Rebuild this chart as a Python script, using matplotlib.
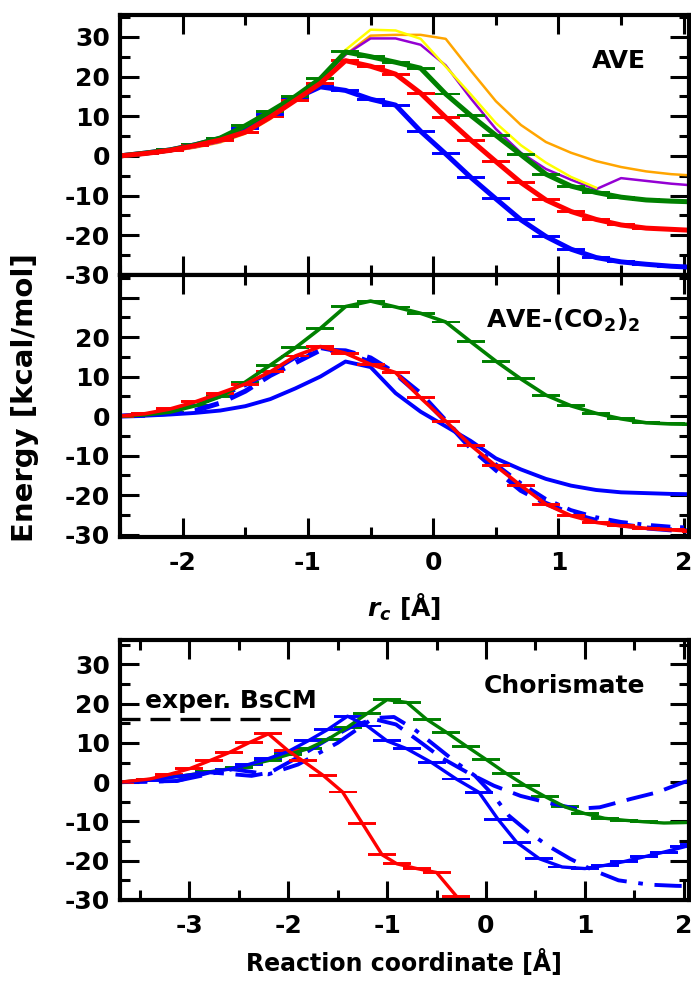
import matplotlib
matplotlib.use("Agg")
import matplotlib.pyplot as plt
from matplotlib.ticker import MultipleLocator

plt.rcParams['font.family'] = 'DejaVu Sans'
plt.rcParams['font.weight'] = 'bold'
plt.rcParams['axes.labelweight'] = 'bold'
plt.rcParams['axes.unicode_minus'] = False
plt.rcParams['mathtext.fontset'] = 'custom'
plt.rcParams['mathtext.rm'] = 'DejaVu Sans:bold'
plt.rcParams['mathtext.it'] = 'DejaVu Sans:italic:bold'
plt.rcParams['mathtext.bf'] = 'DejaVu Sans:bold'

# ---- data: top panel (AVE) and middle panel (AVE-(CO2)2), r_c grid in Angstrom
rc = [-2.5, -2.3, -2.1, -1.9, -1.7, -1.5, -1.3, -1.1, -0.9, -0.7, -0.5, -0.3,
      -0.1, 0.1, 0.3, 0.5, 0.7, 0.9, 1.1, 1.3, 1.5, 1.7, 1.9, 2.1]

ave_blue = [0, 0.7, 1.5, 2.8, 4.4, 6.8, 10.4, 14.5, 17.4, 16.5, 14.3, 12.8,
            6.2, 0.5, -5.4, -10.8, -16.1, -20.3, -23.5, -25.6, -26.7, -27.3, -27.8, -28.1]
ave_red = [0, 0.6, 1.4, 2.6, 4.0, 6.0, 9.8, 14.0, 18.3, 24.0, 22.6, 20.6,
           15.8, 9.7, 4.0, -1.4, -6.7, -11.1, -14.0, -16.0, -17.4, -18.2, -18.5, -18.8]
ave_green = [0, 0.7, 1.5, 2.8, 4.5, 7.6, 11.2, 15.0, 19.5, 26.2, 25.0, 23.6,
             22.1, 15.6, 10.2, 5.2, 0.3, -4.6, -7.6, -9.2, -10.4, -11.1, -11.4, -11.6]
ave_yellow = [0, 0.5, 1.2, 2.3, 3.8, 6.0, 9.8, 14.5, 19.5, 26.7, 31.8, 31.6,
              29.5, 22.5, 15.5, 8.3, 2.7, -1.7, -5.3, -8.0]
ave_orange = [0, 0.5, 1.2, 2.1, 3.4, 5.6, 9.3, 14.0, 19.0, 25.5, 30.3, 30.5,
              30.5, 29.5, 21.5, 13.8, 7.8, 3.5, 0.8, -1.3, -2.8, -3.9, -4.6, -5.0]
ave_purple = [0, 0.5, 1.2, 2.2, 3.6, 5.8, 9.5, 14.2, 19.0, 25.5, 29.6, 29.6,
              28.0, 22.8, 14.5, 6.8, 0.8, -3.3, -6.0, -8.4, -5.6, -6.3, -7.0, -7.5]

co2_green = [0, 0.3, 1.0, 2.6, 4.9, 8.6, 12.9, 17.3, 22.2, 27.7, 29.1, 27.6,
             26.0, 23.8, 18.8, 13.9, 9.4, 5.3, 2.6, 0.7, -0.7, -1.7, -2.0, -2.1]
co2_red = [0, 0.6, 1.8, 3.6, 5.8, 8.1, 11.2, 15.2, 17.6, 15.9, 13.1, 11.0,
           4.6, -1.3, -7.4, -12.6, -17.6, -22.3, -25.2, -26.9, -27.8, -28.4, -28.8, -29.2]
co2_blue = [0, 0.1, 0.4, 0.8, 1.4, 2.5, 4.3, 7.0, 10.0, 13.8, 12.4, 5.8,
            1.1, -2.6, -6.3, -10.7, -13.5, -15.9, -17.6, -18.7, -19.3, -19.5, -19.7, -19.8]
co2_blue_dash = [0, 0.2, 0.7, 1.4, 3.3, 6.3, 10.3, 13.5, 16.7, 16.5, 14.7, 10.8,
                 5.7, -1.2, -8.1, -13.6, -18.8, -22.1, -24.7, -26.4, -27.5, -28.3, -28.8, -29.2]
co2_blue_dashdot = [0, 0.5, 1.4, 3.0, 5.0, 7.8, 11.0, 14.8, 17.2, 16.0, 13.8, 10.5,
                    5.0, -1.5, -7.0, -12.2, -17.0, -21.0, -23.8, -25.6, -26.8, -27.5, -28.0, -28.3]

# ---- data: bottom panel (Chorismate)
ch_red_x = [-3.7, -3.4, -3.2, -3.0, -2.8, -2.6, -2.4, -2.2, -2.0, -1.85, -1.65,
            -1.45, -1.25, -1.05, -0.9, -0.7, -0.5, -0.3, -0.2]
ch_red = [0, 0.8, 2.0, 3.4, 5.4, 7.5, 10.0, 12.3, 8.0, 5.4, 1.8,
          -2.5, -10.5, -18.5, -20.8, -22.0, -23.0, -29.0, -32.0]
ch_green_x = [-3.7, -3.4, -3.1, -2.8, -2.5, -2.2, -2.0, -1.8, -1.6, -1.4, -1.2, -1.0,
              -0.8, -0.6, -0.4, -0.2, 0.0, 0.2, 0.4, 0.6, 0.8, 1.0, 1.2, 1.4, 1.6, 1.8, 2.0, 2.1]
ch_green = [0, 0.7, 1.5, 2.6, 3.8, 5.5, 7.0, 8.5, 10.9, 14.0, 17.5, 21.0,
            20.3, 16.0, 12.7, 9.2, 5.8, 2.3, -0.9, -3.7, -6.3, -8.0, -9.2, -9.7, -10.1, -10.4, -10.3, -10.2]
ch_blue_x = [-3.7, -3.4, -3.1, -2.8, -2.6, -2.4, -2.2, -2.0, -1.8, -1.6, -1.4, -1.2,
             -1.0, -0.8, -0.55, -0.3, -0.07, 0.12, 0.31, 0.54, 0.77, 1.0, 1.2, 1.4, 1.6, 1.8, 2.0, 2.1]
ch_blue = [0, 0.5, 1.5, 2.5, 3.3, 4.5, 6.0, 7.8, 10.5, 13.4, 16.8, 14.3,
           10.5, 8.5, 5.0, 0.8, -2.6, -9.4, -15.3, -19.5, -21.6, -22.0, -21.2, -20.2, -19.0, -17.8, -16.5, -15.8]
ch_blue_dash_x = [-3.7, -3.13, -2.79, -2.37, -2.18, -1.91, -1.6, -1.37, -1.14, -0.91,
                  -0.68, -0.45, -0.19, 0.08, 0.35, 0.62, 0.92, 1.15, 1.46, 1.73, 2.0, 2.1]
ch_blue_dash = [0, 0.3, 2.5, 1.6, 2.5, 6.2, 10.9, 14.0, 16.1, 14.7,
                10.5, 6.2, 2.5, -0.9, -3.5, -5.2, -6.8, -6.4, -4.3, -2.6, 0.0, 0.6]
ch_blue_dashdot_x = [-3.7, -3.13, -2.56, -2.2, -1.9, -1.5, -1.14, -0.93, -0.72, -0.53,
                     -0.3, -0.11, 0.08, 0.23, 0.43, 0.62, 0.85, 1.08, 1.34, 1.65, 1.92, 2.1]
ch_blue_dashdot = [0, 0.3, 3.3, 2.0, 4.5, 10.0, 16.3, 16.6, 13.4, 9.6,
                   5.0, 1.6, -3.5, -8.5, -12.7, -16.1, -19.5, -22.4, -25.0, -26.1, -26.4, -26.5]
exper_x = [-3.7, -1.98]
exper_bscm = 16.1

err = 0.12

fig = plt.figure(figsize=(6.91, 9.81), dpi=100)
left, width = 0.1737, 0.823
ax1 = fig.add_axes([left, 0.7197, width, 0.2650])
ax2 = fig.add_axes([left, 0.4526, width, 0.2671])
ax3 = fig.add_axes([left, 0.0826, width, 0.2650])


def style(ax, xlim, ylim):
    ax.set_xlim(*xlim)
    ax.set_ylim(*ylim)
    ax.xaxis.set_major_locator(MultipleLocator(1))
    ax.xaxis.set_minor_locator(MultipleLocator(0.5))
    ax.yaxis.set_major_locator(MultipleLocator(10))
    ax.yaxis.set_minor_locator(MultipleLocator(5))
    ax.tick_params(which='both', direction='in', top=True, right=True,
                   width=2.2, labelsize=18)
    ax.tick_params(which='major', length=14)
    ax.tick_params(which='minor', length=7)
    ax.tick_params(axis='y', pad=7)
    ax.tick_params(axis='x', pad=10)
    for s in ax.spines.values():
        s.set_linewidth(3)


def ebar(ax, x, y, color, lw):
    ax.errorbar(x, y, yerr=err, color=color, lw=lw, elinewidth=1.0,
                capsize=10, capthick=1.4)


# top panel
ax1.plot(rc, ave_orange, color='#ffa500', lw=1.8)
ax1.plot(rc, ave_purple, color='#9400d3', lw=1.8)
ax1.plot(rc[:len(ave_yellow)], ave_yellow, color='#ffff00', lw=1.8)
ebar(ax1, rc, ave_blue, '#0000ff', 3.6)
ebar(ax1, rc, ave_green, '#008000', 3.6)
ebar(ax1, rc, ave_red, '#ff0000', 3.6)
style(ax1, (-2.5, 2.04), (-30, 35.5))
ax1.tick_params(labelbottom=False)
ax1.text(0.877, 0.796, 'AVE', transform=ax1.transAxes, ha='center',
         va='baseline', fontsize=18)

# middle panel
ebar(ax2, rc, co2_green, '#008000', 2.6)
ax2.plot(rc, co2_blue, color='#0000ff', lw=2.8)
ax2.plot(rc, co2_blue_dash, color='#0000ff', lw=3.6, dashes=(5, 2.5))
ax2.plot(rc, co2_blue_dashdot, color='#0000ff', lw=2.8, dashes=(5, 2.5, 1, 2.5))
ebar(ax2, rc, co2_red, '#ff0000', 2.6)
style(ax2, (-2.5, 2.04), (-30.6, 35.7))
ax2.set_yticks([-30, -20, -10, 0, 10, 20, 30])
ax2.set_yticklabels(['-30', '-20', '-10', '0', '10', '20', ''])
ax2.text(0.779, 0.80, r'AVE-(CO$_2$)$_2$', transform=ax2.transAxes,
         ha='center', va='baseline', fontsize=18)
ax2.set_xlabel(r'$r_c$ [Å]', fontsize=18, labelpad=12)

# bottom panel
ax3.plot(exper_x, [exper_bscm, exper_bscm], color='black', lw=2.4, dashes=(6, 3))
ebar(ax3, ch_green_x, ch_green, '#008000', 2.4)
ax3.plot(ch_blue_dash_x, ch_blue_dash, color='#0000ff', lw=2.8, dashes=(7, 3))
ax3.plot(ch_blue_dashdot_x, ch_blue_dashdot, color='#0000ff', lw=2.8,
         dashes=(7, 3, 1.2, 3))
ebar(ax3, ch_blue_x, ch_blue, '#0000ff', 2.4)
ebar(ax3, ch_red_x, ch_red, '#ff0000', 2.4)
style(ax3, (-3.7, 2.05), (-30, 36.2))
ax3.text(0.782, 0.796, 'Chorismate', transform=ax3.transAxes, ha='center',
         va='baseline', fontsize=18)
ax3.text(0.044, 0.738, 'exper. BsCM', transform=ax3.transAxes, ha='left',
         va='baseline', fontsize=18)
ax3.set_xlabel('Reaction coordinate [Å]', fontsize=17, labelpad=8)

fig.text(0.036, 0.595, 'Energy [kcal/mol]', rotation=90, ha='center',
         va='center', fontsize=21)

fig.savefig('out.png', dpi=100)
